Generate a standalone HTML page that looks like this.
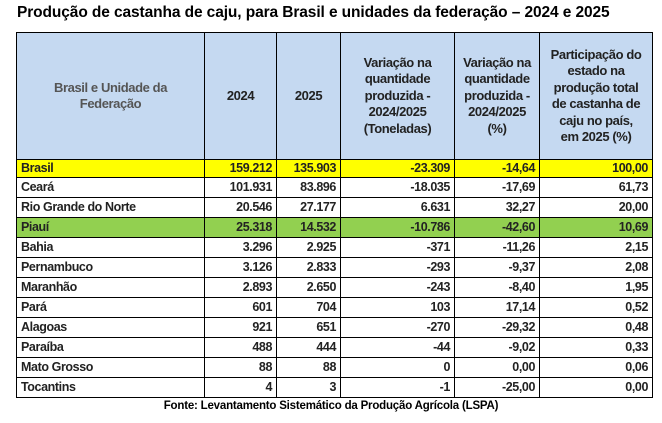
<!DOCTYPE html>
<html><head><meta charset="utf-8"><style>
body{margin:0;width:662px;height:423px;background:#fff;font-family:"Liberation Sans",sans-serif;position:relative;overflow:hidden}
.title{position:absolute;left:17px;top:4px;font-size:15.5px;font-weight:bold;color:#000;white-space:nowrap;letter-spacing:-0.1px}
table{position:absolute;left:16px;top:32px;border-collapse:collapse;table-layout:fixed;width:636px}
td{border:1px solid #000;font-size:12.5px;font-weight:bold;color:#222;padding:0 4px;height:19px;line-height:19px;text-align:right;white-space:nowrap;letter-spacing:-0.4px}
td.l{text-align:left}
tr.h td{background:#c5d9f1;height:126px;line-height:16.5px;text-align:center;white-space:normal;color:#222;font-size:13px;padding:0 8px}
tr.h td.l{color:#555;text-align:center;padding:0 30px}
tr.h td.p{padding:0 10px}
tr.y td{background:#ffff00;height:17px;line-height:17px}
tr.g td{background:#92d050}
.src{position:absolute;left:0;width:662px;top:400px;text-align:center;font-size:11.5px;font-weight:bold;letter-spacing:-0.2px}
</style></head><body>
<div class="title">Produção de castanha de caju, para Brasil e unidades da federação – 2024 e 2025</div>
<table>
<colgroup><col style="width:188px"><col style="width:72px"><col style="width:64px"><col style="width:114px"><col style="width:85px"><col style="width:113px"></colgroup>
<tr class="h"><td class="l">Brasil e Unidade da Federação</td><td>2024</td><td>2025</td><td>Variação na quantidade produzida - 2024/2025 (Toneladas)</td><td>Variação na quantidade produzida - 2024/2025 (%)</td><td class="p">Participação do estado na produção total de castanha de caju no país, em 2025 (%)</td></tr>
<tr class="y"><td class="l">Brasil</td><td>159.212</td><td>135.903</td><td>-23.309</td><td>-14,64</td><td>100,00</td></tr>
<tr><td class="l">Ceará</td><td>101.931</td><td>83.896</td><td>-18.035</td><td>-17,69</td><td>61,73</td></tr>
<tr><td class="l">Rio Grande do Norte</td><td>20.546</td><td>27.177</td><td>6.631</td><td>32,27</td><td>20,00</td></tr>
<tr class="g"><td class="l">Piauí</td><td>25.318</td><td>14.532</td><td>-10.786</td><td>-42,60</td><td>10,69</td></tr>
<tr><td class="l">Bahia</td><td>3.296</td><td>2.925</td><td>-371</td><td>-11,26</td><td>2,15</td></tr>
<tr><td class="l">Pernambuco</td><td>3.126</td><td>2.833</td><td>-293</td><td>-9,37</td><td>2,08</td></tr>
<tr><td class="l">Maranhão</td><td>2.893</td><td>2.650</td><td>-243</td><td>-8,40</td><td>1,95</td></tr>
<tr><td class="l">Pará</td><td>601</td><td>704</td><td>103</td><td>17,14</td><td>0,52</td></tr>
<tr><td class="l">Alagoas</td><td>921</td><td>651</td><td>-270</td><td>-29,32</td><td>0,48</td></tr>
<tr><td class="l">Paraíba</td><td>488</td><td>444</td><td>-44</td><td>-9,02</td><td>0,33</td></tr>
<tr><td class="l">Mato Grosso</td><td>88</td><td>88</td><td>0</td><td>0,00</td><td>0,06</td></tr>
<tr><td class="l">Tocantins</td><td>4</td><td>3</td><td>-1</td><td>-25,00</td><td>0,00</td></tr>
</table>
<div class="src">Fonte: Levantamento Sistemático da Produção Agrícola (LSPA)</div>
</body></html>
